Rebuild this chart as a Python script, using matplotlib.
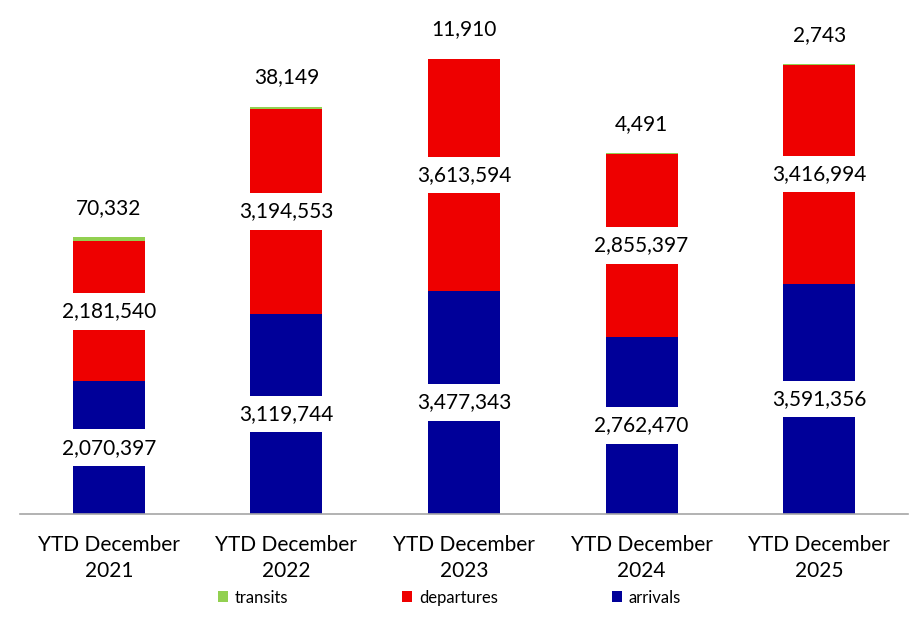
import matplotlib.pyplot as plt

plt.rcParams['font.family'] = ['Lato', 'DejaVu Sans']

years = ['YTD December\n2021', 'YTD December\n2022', 'YTD December\n2023',
         'YTD December\n2024', 'YTD December\n2025']
arrivals = [2070397, 3119744, 3477343, 2762470, 3591356]
departures = [2181540, 3194553, 3613594, 2855397, 3416994]
transits = [70332, 38149, 11910, 4491, 2743]

c_arr = '#000099'
c_dep = '#EE0000'
c_tra = '#92D050'

fig = plt.figure(figsize=(9.15, 6.27), dpi=100)
ax = fig.add_axes([20 / 915, 113 / 627, 888 / 915, 513 / 627])

x = range(len(years))
w = 0.405
b1 = ax.bar(x, arrivals, w, color=c_arr, label='arrivals')
b2 = ax.bar(x, departures, w, bottom=arrivals, color=c_dep, label='departures')
bot3 = [a + d for a, d in zip(arrivals, departures)]
b3 = ax.bar(x, transits, w, bottom=bot3, color=c_tra, label='transits')

box = dict(facecolor='white', edgecolor='none', pad=6)
for i in x:
    ax.text(i, arrivals[i] / 2, f'{arrivals[i]:,}', ha='center', va='center',
            fontsize=15, bbox=box)
    ax.text(i, arrivals[i] + departures[i] / 2, f'{departures[i]:,}',
            ha='center', va='center', fontsize=15, bbox=box)
    ax.annotate(f'{transits[i]:,}', (i, bot3[i] + transits[i]),
                xytext=(0, 21), textcoords='offset points',
                ha='center', va='center', fontsize=15)

ax.set_xlim(-0.5, 4.5)
ax.set_ylim(0, 8000000)
ax.set_xticks(list(x))
ax.set_xticklabels(years, fontsize=15, linespacing=1.4)
ax.tick_params(axis='x', length=0, pad=15)
ax.set_yticks([])
for s in ['top', 'right', 'left']:
    ax.spines[s].set_visible(False)
ax.spines['bottom'].set_color('#A6A6A6')
ax.spines['bottom'].set_linewidth(1.2)

fig.legend(handles=[b3, b2, b1], labels=['transits', 'departures', 'arrivals'],
           loc='center', bbox_to_anchor=(0.491, 0.047), ncol=3, frameon=False,
           fontsize=12, handlelength=0.6, handleheight=0.6, handletextpad=0.4,
           columnspacing=6.85)

fig.savefig('out.png', dpi=100)
